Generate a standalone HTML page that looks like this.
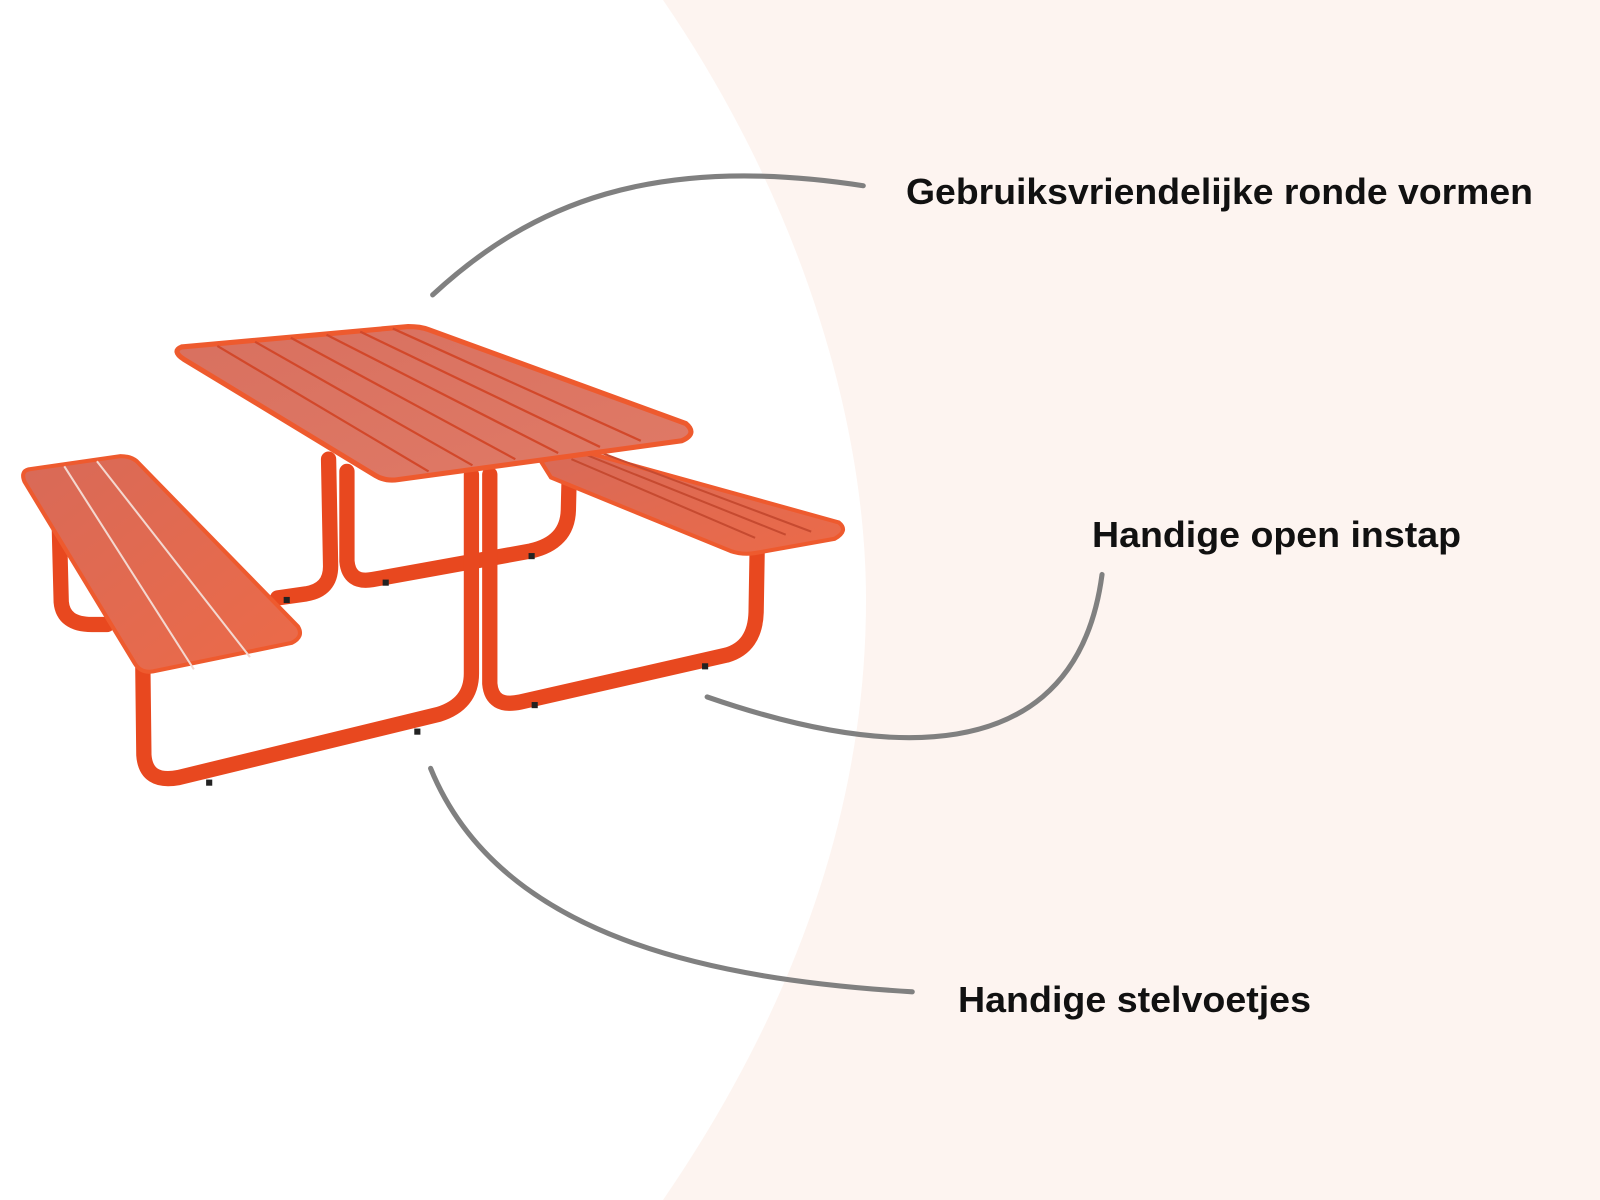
<!DOCTYPE html>
<html><head><meta charset="utf-8"><style>
html,body{margin:0;padding:0;width:1600px;height:1200px;overflow:hidden;background:#fff}
svg{display:block}
</style></head><body>
<svg width="1600" height="1200" viewBox="0 0 1600 1200" xmlns="http://www.w3.org/2000/svg">
<defs>
<linearGradient id="top" x1="0" y1="0" x2="1" y2="1">
<stop offset="0" stop-color="#d8705f"/><stop offset="1" stop-color="#e07a66"/></linearGradient>
<linearGradient id="bench" x1="0" y1="0" x2="1" y2="1">
<stop offset="0" stop-color="#d86a58"/><stop offset="1" stop-color="#ec6a48"/></linearGradient>
</defs>
<rect width="1600" height="1200" fill="#fdf4f0"/>
<path d="M663,0 C800,200 866,420 866,600 C866,800 800,1000 663,1200 L0,1200 L0,0 Z" fill="#ffffff"/>
<g transform="scale(1.0204)">
 <g fill="none" stroke="#e8481f" stroke-linecap="round" stroke-linejoin="round" stroke-width="15">
  <!-- back frame -->
  <path d="M322,450 L324,555 Q324,578 300,582 L272,586"/>
  <path d="M340,462 L340,550 Q342,572 365,568 L520,540 Q556,532 557,500 L558,458"/>
  <path d="M58,512 L60,590 Q62,612 90,612 L105,612"/>
  <!-- front frame -->
  <path d="M140,655 L141,740 Q143,768 175,762 L430,700 Q462,690 462,660 L462,465"/>
  <path d="M480,465 L480,670 Q482,694 510,688 L712,642 Q740,634 741,600 L742,540"/>
 </g>
 <g fill="#222">
  <rect x="278" y="585" width="6" height="6"/><rect x="375" y="568" width="6" height="6"/>
  <rect x="518" y="542" width="6" height="6"/><rect x="406" y="714" width="6" height="6"/>
  <rect x="202" y="764" width="6" height="6"/><rect x="521" y="688" width="6" height="6"/>
  <rect x="688" y="650" width="6" height="6"/>
 </g>
 <!-- right bench -->
 <path d="M530,452 L570,442 L822,512 Q832,520 818,528 L740,542 Q728,544 716,540 L540,468 Z" fill="url(#bench)" stroke="#ee5a2e" stroke-width="4"/>
 <g stroke="#c64a30" stroke-width="2"><line x1="560" y1="450" x2="740" y2="527"/><line x1="575" y1="446" x2="770" y2="524"/><line x1="590" y1="444" x2="795" y2="521"/></g>
 <!-- table top -->
 <path d="M178,340 L400,320 Q412,320 420,323 L672,415 Q684,425 668,432 L390,470 Q378,472 368,466 L180,352 Q168,344 178,340 Z" fill="url(#top)" stroke="#ee5a2e" stroke-width="5"/>
 <g stroke="#d2482a" stroke-width="2.2">
  <line x1="213" y1="339" x2="420" y2="462"/><line x1="250" y1="335" x2="463" y2="456"/>
  <line x1="285" y1="331" x2="505" y2="450"/><line x1="320" y1="328" x2="547" y2="444"/>
  <line x1="353" y1="325" x2="588" y2="438"/><line x1="385" y1="322" x2="628" y2="432"/>
 </g>
 <!-- left bench -->
 <path d="M28,460 L118,447 Q128,447 134,452 L292,614 Q298,624 286,630 L150,658 Q138,660 132,650 L24,472 Q20,462 28,460 Z" fill="url(#bench)" stroke="#ee5a2e" stroke-width="4"/>
 <g stroke="#f4d8d0" stroke-width="2"><line x1="63" y1="457" x2="190" y2="656"/><line x1="95" y1="452" x2="245" y2="644"/></g>
 <!-- connectors -->
 <g fill="none" stroke="#808080" stroke-width="5" stroke-linecap="round">
  <path d="M424,289 C520,200 640,150 846,182"/>
  <path d="M693,683 C800,720 1050,790 1080,563"/>
  <path d="M422,753 C490,920 700,960 894,972"/>
 </g>
</g>
<g font-family="'Liberation Sans',sans-serif" font-weight="bold" font-size="36" fill="#111">
 <text x="906" y="204" textLength="627" lengthAdjust="spacingAndGlyphs">Gebruiksvriendelijke ronde vormen</text>
 <text x="1092" y="547" textLength="369" lengthAdjust="spacingAndGlyphs">Handige open instap</text>
 <text x="958" y="1012" textLength="353" lengthAdjust="spacingAndGlyphs">Handige stelvoetjes</text>
</g>
</svg>
</body></html>
